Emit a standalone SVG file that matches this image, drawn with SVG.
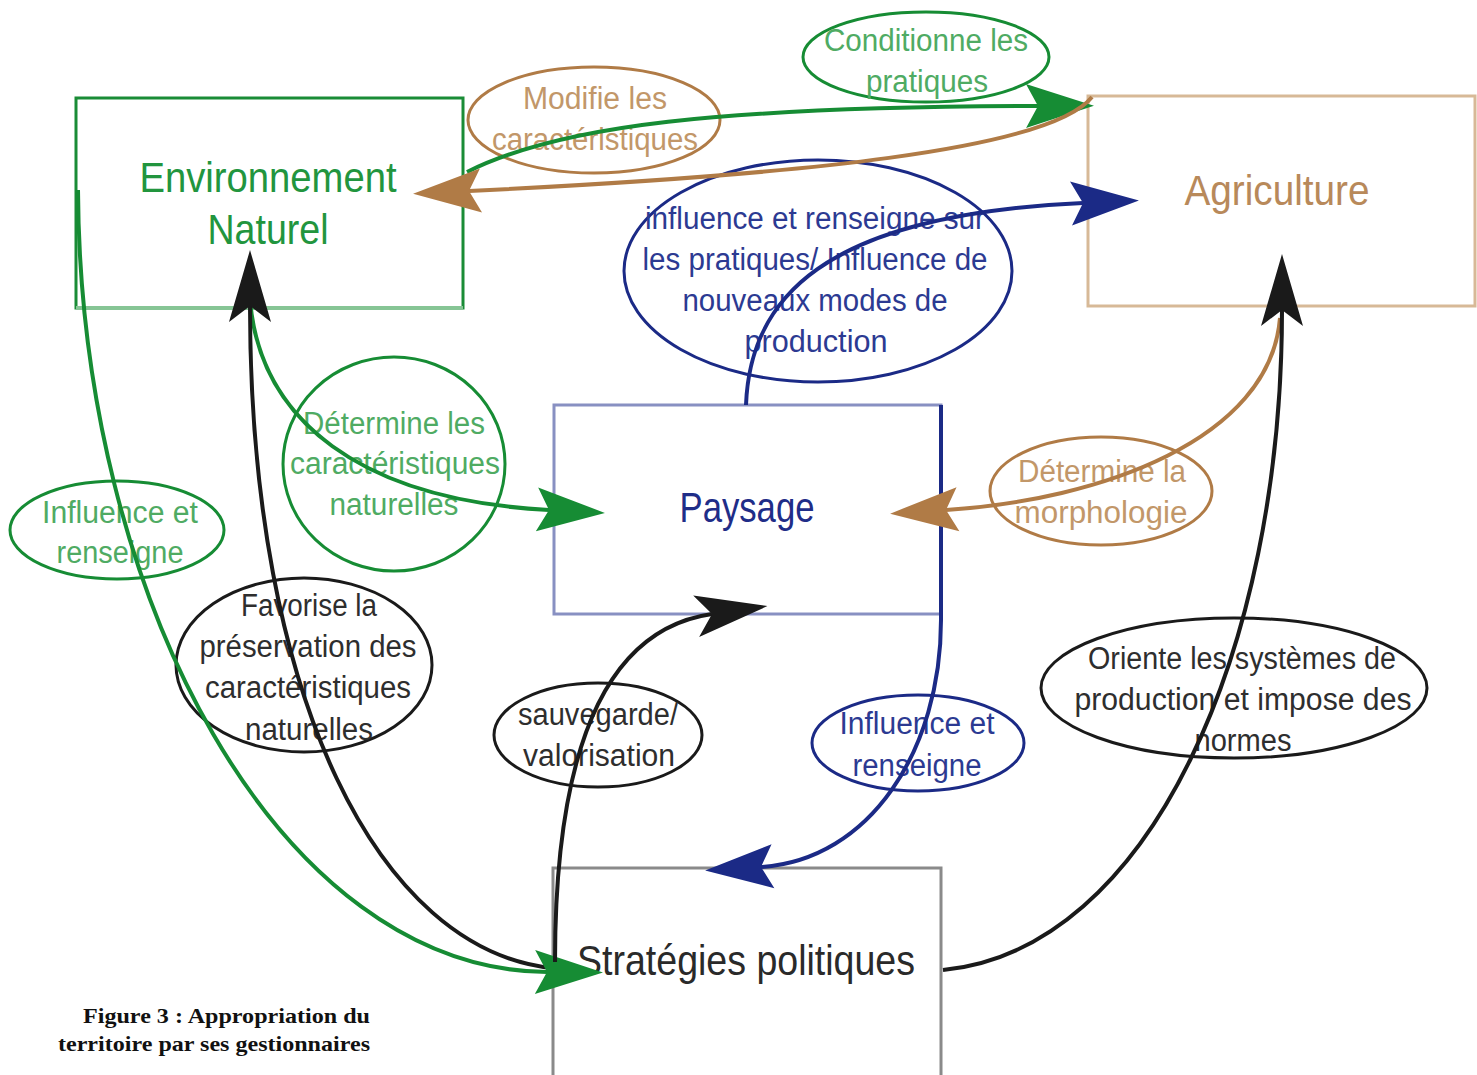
<svg xmlns="http://www.w3.org/2000/svg" width="1477" height="1075" viewBox="0 0 1477 1075">
  <style>
    .box { fill: #ffffff; stroke-width: 3; }
    .title { font-family: "Liberation Sans", Arial, sans-serif; font-size: 42px; text-anchor: middle; }
    .lbl { font-family: "Liberation Sans", Arial, sans-serif; font-size: 31px; text-anchor: middle; }
    .oval { fill: none; stroke-width: 3; }
    .wire { fill: none; stroke-width: 4; }
    .green { stroke: #168c34; }
    .tan { stroke: #b07b46; }
    .navy { stroke: #1b2a86; }
    .black { stroke: #1a1a1a; }
    .t-green { fill: #4fab63; }
    .t-tan { fill: #c29769; }
    .t-navy { fill: #2c3a92; }
    .t-black { fill: #2e2e2e; }
    .caption { font-family: "Liberation Serif", "Times New Roman", serif; font-weight: bold; font-size: 21px; text-anchor: end; fill: #111; }
  </style>
  <defs>
    <!-- stealth arrowhead: origin sits on the notch, tip 56px ahead -->
    <marker id="ah-green" markerUnits="userSpaceOnUse" markerWidth="80" markerHeight="60" refX="0" refY="0" viewBox="-20 -30 80 60" orient="auto" overflow="visible">
      <path d="M56,0 L-12,-22 L0,0 L-12,22 Z" fill="#168c34"/>
    </marker>
    <marker id="ah-tan" markerUnits="userSpaceOnUse" markerWidth="80" markerHeight="60" refX="0" refY="0" viewBox="-20 -30 80 60" orient="auto" overflow="visible">
      <path d="M56,0 L-12,-22 L0,0 L-12,22 Z" fill="#b07b46"/>
    </marker>
    <marker id="ah-navy" markerUnits="userSpaceOnUse" markerWidth="80" markerHeight="60" refX="0" refY="0" viewBox="-20 -30 80 60" orient="auto" overflow="visible">
      <path d="M56,0 L-12,-22 L0,0 L-12,22 Z" fill="#1b2a86"/>
    </marker>
    <marker id="ah-black" markerUnits="userSpaceOnUse" markerWidth="80" markerHeight="60" refX="0" refY="0" viewBox="-20 -30 80 60" orient="auto" overflow="visible">
      <path d="M56,0 L-16,-21 L0,0 L-16,21 Z" fill="#1a1a1a"/>
    </marker>
  </defs>

  <rect width="1477" height="1075" fill="#ffffff"/>

  <!-- Nodes -->
  <g id="node-environnement">
    <rect class="box" x="76" y="98" width="387" height="210" stroke="#1a8c36"/>
    <line x1="76" y1="308" x2="463" y2="308" stroke="#86c595" stroke-width="4"/>
    <text class="title" fill="#22953e" x="268" y="192" textLength="257" lengthAdjust="spacingAndGlyphs">Environnement</text>
    <text class="title" fill="#22953e" x="268" y="244" textLength="121" lengthAdjust="spacingAndGlyphs">Naturel</text>
  </g>
  <g id="node-agriculture">
    <rect class="box" x="1088" y="96" width="387" height="210" stroke="#d7b997"/>
    <text class="title" fill="#b8895a" x="1277" y="205" textLength="185" lengthAdjust="spacingAndGlyphs">Agriculture</text>
  </g>
  <g id="node-paysage">
    <rect class="box" x="554" y="405" width="387" height="209" stroke="#8890c2"/>
    <text class="title" fill="#1f2d88" x="747" y="522" textLength="135" lengthAdjust="spacingAndGlyphs">Paysage</text>
  </g>
  <g id="node-strategies">
    <rect class="box" x="553" y="868" width="388" height="212" stroke="#8a8a8a" stroke-width="4"/>
    <text class="title" fill="#2a2a2a" font-size="40" x="746" y="975" textLength="338" lengthAdjust="spacingAndGlyphs">Stratégies politiques</text>
  </g>

  <!-- Relation labels -->
  <g id="labels">
    <g id="lbl-modifie">
      <ellipse class="oval tan" cx="594" cy="120" rx="126" ry="53" stroke-width="4"/>
      <text class="lbl t-tan" x="595" y="109" textLength="144" lengthAdjust="spacingAndGlyphs">Modifie les</text>
      <text class="lbl t-tan" x="595" y="150" textLength="206" lengthAdjust="spacingAndGlyphs">caractéristiques</text>
    </g>
    <g id="lbl-conditionne">
      <ellipse class="oval green" cx="926" cy="57" rx="123" ry="45"/>
      <text class="lbl t-green" x="926" y="51" textLength="204" lengthAdjust="spacingAndGlyphs">Conditionne les</text>
      <text class="lbl t-green" x="927" y="92" textLength="122" lengthAdjust="spacingAndGlyphs">pratiques</text>
    </g>
    <g id="lbl-influence-pratiques">
      <ellipse class="oval navy" cx="818" cy="271" rx="194" ry="111"/>
      <text class="lbl t-navy" x="815" y="229" textLength="340" lengthAdjust="spacingAndGlyphs">influence et renseigne sur</text>
      <text class="lbl t-navy" x="815" y="270" textLength="345" lengthAdjust="spacingAndGlyphs">les pratiques/ Influence de</text>
      <text class="lbl t-navy" x="815" y="311" textLength="265" lengthAdjust="spacingAndGlyphs">nouveaux modes de</text>
      <text class="lbl t-navy" x="816" y="352" textLength="143" lengthAdjust="spacingAndGlyphs">production</text>
    </g>
    <g id="lbl-determine-caracteristiques">
      <ellipse class="oval green" cx="394" cy="464" rx="111" ry="107"/>
      <text class="lbl t-green" x="394" y="434" textLength="182" lengthAdjust="spacingAndGlyphs">Détermine les</text>
      <text class="lbl t-green" x="395" y="474" textLength="210" lengthAdjust="spacingAndGlyphs">caractéristiques</text>
      <text class="lbl t-green" x="394" y="515" textLength="129" lengthAdjust="spacingAndGlyphs">naturelles</text>
    </g>
    <g id="lbl-influence-env">
      <ellipse class="oval green" cx="117" cy="530" rx="107" ry="49"/>
      <text class="lbl t-green" x="120" y="523" textLength="156" lengthAdjust="spacingAndGlyphs">Influence et</text>
      <text class="lbl t-green" x="120" y="563" textLength="127" lengthAdjust="spacingAndGlyphs">renseigne</text>
    </g>
    <g id="lbl-morphologie">
      <ellipse class="oval tan" cx="1101" cy="491" rx="111" ry="54" stroke-width="4"/>
      <text class="lbl t-tan" x="1102" y="482" textLength="168" lengthAdjust="spacingAndGlyphs">Détermine la</text>
      <text class="lbl t-tan" x="1101" y="523" textLength="173" lengthAdjust="spacingAndGlyphs">morphologie</text>
    </g>
    <g id="lbl-favorise">
      <ellipse class="oval black" cx="304" cy="665" rx="128" ry="87"/>
      <text class="lbl t-black" x="309" y="616" textLength="136" lengthAdjust="spacingAndGlyphs">Favorise la</text>
      <text class="lbl t-black" x="308" y="657" textLength="217" lengthAdjust="spacingAndGlyphs">préservation des</text>
      <text class="lbl t-black" x="308" y="698" textLength="206" lengthAdjust="spacingAndGlyphs">caractéristiques</text>
      <text class="lbl t-black" x="309" y="740" textLength="128" lengthAdjust="spacingAndGlyphs">naturelles</text>
    </g>
    <g id="lbl-sauvegarde">
      <ellipse class="oval black" cx="598" cy="735" rx="104" ry="52"/>
      <text class="lbl t-black" x="598" y="725" textLength="160" lengthAdjust="spacingAndGlyphs">sauvegarde/</text>
      <text class="lbl t-black" x="599" y="766" textLength="152" lengthAdjust="spacingAndGlyphs">valorisation</text>
    </g>
    <g id="lbl-influence-paysage">
      <ellipse class="oval navy" cx="918" cy="743" rx="106" ry="48"/>
      <text class="lbl t-navy" x="917" y="734" textLength="155" lengthAdjust="spacingAndGlyphs">Influence et</text>
      <text class="lbl t-navy" x="917" y="776" textLength="129" lengthAdjust="spacingAndGlyphs">renseigne</text>
    </g>
    <g id="lbl-oriente">
      <ellipse class="oval black" cx="1234" cy="688" rx="193" ry="70"/>
      <text class="lbl t-black" x="1242" y="669" textLength="308" lengthAdjust="spacingAndGlyphs">Oriente les systèmes de</text>
      <text class="lbl t-black" x="1243" y="710" textLength="337" lengthAdjust="spacingAndGlyphs">production et impose des</text>
      <text class="lbl t-black" x="1243" y="751" textLength="97" lengthAdjust="spacingAndGlyphs">normes</text>
    </g>
  </g>

  <!-- Connectors -->
  <g id="connectors">
    <path class="wire green" d="M467,172 C560,125 720,107 1038,106" marker-end="url(#ah-green)"/>
    <path class="wire tan" d="M1092,97 C1050,150 800,175 469,191" marker-end="url(#ah-tan)"/>
    <path class="wire navy" d="M746,405 C750,300 820,215 1083,203" marker-end="url(#ah-navy)"/>
    <path class="wire green" d="M250,300 C260,420 360,500 549,510" marker-end="url(#ah-green)"/>
    <path class="wire black" d="M552,968 C380,950 250,700 250,306" marker-end="url(#ah-black)"/>
    <path class="wire green" d="M78,190 C80,600 280,970 547,972" marker-end="url(#ah-green)"/>
    <path class="wire black" d="M555,962 C555,760 600,630 712,614" marker-end="url(#ah-black)"/>
    <path class="wire navy" d="M941,405 L941,620 C941,750 870,860 761,867" marker-end="url(#ah-navy)"/>
    <path class="wire tan" d="M1280,318 C1270,440 1100,500 946,510" marker-end="url(#ah-tan)"/>
    <path class="wire black" d="M943,970 C1150,950 1282,650 1282,310" marker-end="url(#ah-black)"/>
  </g>

  <g id="caption">
    <text class="caption" x="370" y="1023" textLength="287" lengthAdjust="spacingAndGlyphs">Figure 3 : Appropriation du</text>
    <text class="caption" x="370" y="1051" textLength="312" lengthAdjust="spacingAndGlyphs">territoire par ses gestionnaires</text>
  </g>
</svg>
